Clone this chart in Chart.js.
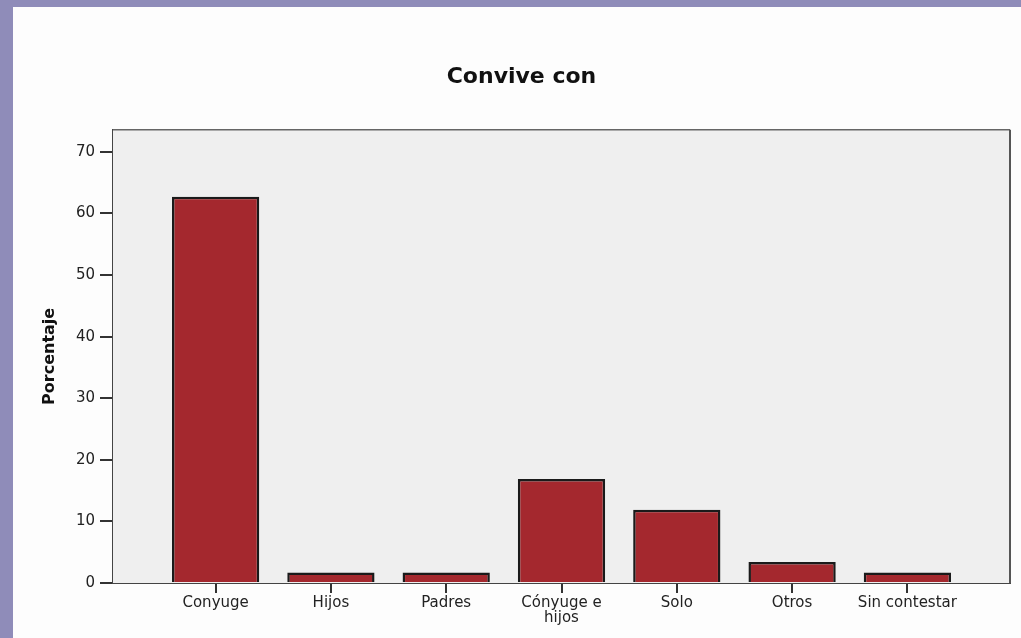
<!DOCTYPE html>
<html>
<head>
<meta charset="utf-8">
<script src="https://cdn.jsdelivr.net/npm/chart.js@4.4.1/dist/chart.umd.min.js"></script>
<style>
  html, body { margin: 0; padding: 0; }
  body { width: 1021px; height: 638px; background: #8f8cb9; overflow: hidden; }
  #panel { position: absolute; left: 13px; top: 7px; width: 1008px; height: 631px; background: #fdfdfd; }
</style>
</head>
<body>
<div id="panel"><canvas id="chart"></canvas></div>
<script>
const chartTitle = 'Convive con';
const axisTitle = 'Porcentaje';
const categories = ['Conyuge', 'Hijos', 'Padres', ['Cónyuge e', 'hijos'], 'Solo', 'Otros', 'Sin contestar'];
const percentages = [62.7, 1.7, 1.7, 16.9, 11.9, 3.4, 1.7];
const yTicks = [0, 10, 20, 30, 40, 50, 60, 70];

// gray plot area + top/right frame, like the SPSS output
const plotFrame = {
  id: 'plotFrame',
  beforeDatasetsDraw(chart) {
    const { ctx, chartArea: a } = chart;
    ctx.save();
    ctx.fillStyle = '#efefef';
    ctx.fillRect(a.left, a.top, a.right - a.left, a.bottom - a.top);
    ctx.restore();
  },
  afterDatasetsDraw(chart) {
    const { ctx, chartArea: a } = chart;
    ctx.save();
    ctx.strokeStyle = '#666';
    ctx.lineWidth = 1.5;
    ctx.beginPath();
    ctx.moveTo(a.left, a.top);
    ctx.lineTo(a.right, a.top);
    ctx.stroke();
    ctx.lineWidth = 2;
    ctx.strokeStyle = '#555';
    ctx.beginPath();
    ctx.moveTo(a.right, a.top);
    ctx.lineTo(a.right, a.bottom);
    ctx.stroke();
    ctx.restore();
  }
};

const ctx = document.getElementById('chart').getContext('2d');

new Chart(ctx, {
  type: 'bar',
  data: {
    datasets: [{
      data: percentages.map((v, i) => ({ x: i, y: v })),
      backgroundColor: '#a4282e',
      borderColor: '#1a1a1a',
      borderWidth: 2.5,
      barPercentage: 0.757,
      categoryPercentage: 1
    }]
  },
  options: {
    responsive: true,
    maintainAspectRatio: false,
    animation: false,
    layout: { padding: { left: 20, right: 11, top: 0, bottom: 0 } },
    plugins: {
      legend: { display: false },
      tooltip: { enabled: false },
      title: {
        display: true,
        text: chartTitle,
        color: '#111',
        font: { family: 'DejaVu Sans', size: 22, weight: 'bold' },
        padding: { top: 57, bottom: 39.3 }
      }
    },
    scales: {
      x: {
        type: 'linear',
        offset: false,
        min: -0.89,
        max: 6.89,
        afterBuildTicks: (scale) => { scale.ticks = categories.map((_, i) => ({ value: i })); },
        afterFit: (scale) => { scale.height = 55; },
        grid: { offset: false, drawOnChartArea: false, tickLength: 10, color: '#333', lineWidth: 2 },
        border: { color: '#444', width: 2 },
        ticks: {
          autoSkip: false,
          maxRotation: 0,
          padding: 3,
          color: '#222',
          font: { family: 'DejaVu Sans', size: 15, lineHeight: 1.0 },
          callback: (v) => categories[v]
        }
      },
      y: {
        min: 0,
        max: 73.6,
        afterBuildTicks: (scale) => { scale.ticks = yTicks.map(v => ({ value: v })); },
        afterFit: (scale) => { scale.width = 80; },
        grid: { drawOnChartArea: false, tickLength: 13, color: '#333', lineWidth: 2 },
        border: { color: '#444', width: 2 },
        ticks: {
          padding: 5,
          color: '#222',
          font: { family: 'DejaVu Sans', size: 15 }
        },
        title: {
          display: true,
          text: axisTitle,
          color: '#111',
          font: { family: 'DejaVu Sans', size: 16, weight: 'bold' },
          padding: { top: 7.5, bottom: 0 }
        }
      }
    }
  },
  plugins: [plotFrame]
});
</script>
</body>
</html>
